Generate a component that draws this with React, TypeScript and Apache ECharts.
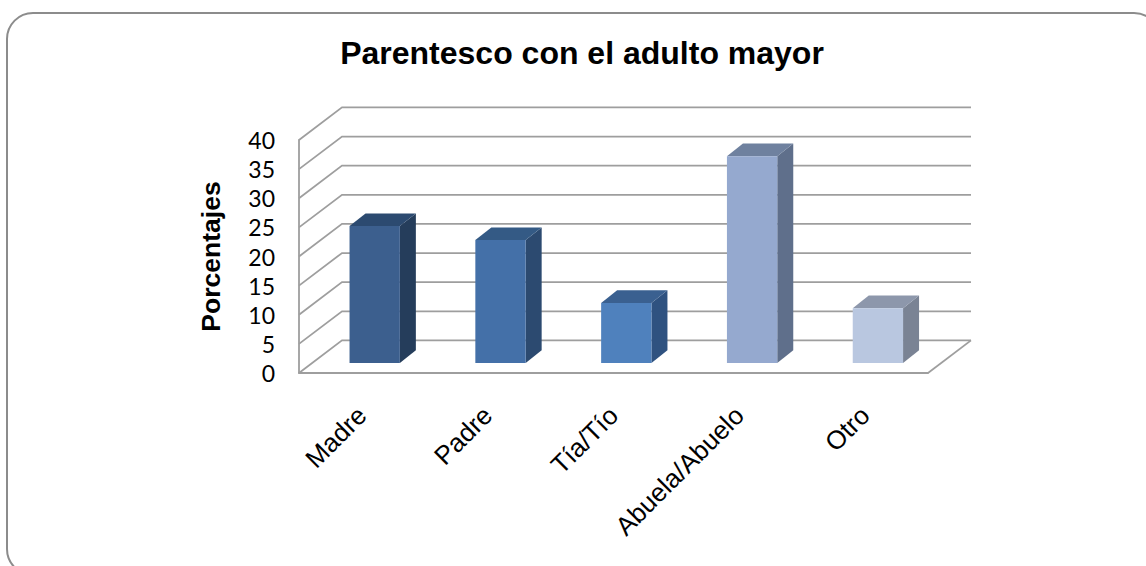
import React, { useEffect, useRef } from "react";
import * as echarts from "echarts";

const categories = ["Madre", "Padre", "Tía/Tío", "Abuela/Abuelo", "Otro"];
const values = [23.5, 21.1, 10.3, 35.5, 9.4];
const yTicks = [0, 5, 10, 15, 20, 25, 30, 35, 40];

const faceColors = ["#3C5F8E", "#4470A8", "#4F81BD", "#95A9CF", "#B9C7E0"];
const sideColors = ["#253D5B", "#2C4A70", "#2F5280", "#5F6F8B", "#7A8394"];
const topColors = ["#2C4A70", "#345A85", "#3A6090", "#6F819F", "#8D97AB"];

const GRID_COLOR = "#9E9E9E";
const GRID_WIDTH = 1.8;
const WALL_DX = 43;
const WALL_DY = -32.6;
const BAR_SHIFT_X = 12.8;
const BAR_SHIFT_Y = -10;
const BAR_DX = 16;
const BAR_DY = -12.7;
const BAR_RATIO = 0.4;

export default function App() {
  const ref = useRef<HTMLDivElement>(null);
  useEffect(() => {
    document.body.style.margin = "0";
    const chart = echarts.init(ref.current!, undefined, { renderer: "svg" });
    chart.setOption({
      animation: false,
      backgroundColor: "#fff",
      title: {
        text: "Parentesco con el adulto mayor",
        left: 577,
        top: 32,
        textAlign: "center",
        textStyle: { fontFamily: "Liberation Sans", fontWeight: "bold", fontSize: 32, color: "#000" },
      },
      graphic: [
        {
          type: "rect",
          silent: true,
          z: -10,
          shape: { x: 7, y: 13, width: 1153, height: 562, r: 26 },
          style: { fill: "#fff", stroke: "#8C8C8C", lineWidth: 2 },
        },
      ],
      grid: { left: 299, right: 218, top: 140, bottom: 193 },
      xAxis: {
        type: "category",
        data: categories,
        axisTick: { show: false },
        axisLine: { show: true, lineStyle: { color: GRID_COLOR, width: GRID_WIDTH } },
        axisLabel: {
          rotate: 45,
          interval: 0,
          margin: 38,
          fontFamily: "Liberation Sans",
          fontSize: 26,
          color: "#000",
        },
      },
      yAxis: {
        type: "value",
        min: 0,
        max: 40,
        interval: 5,
        splitLine: { show: false },
        axisTick: { show: false },
        axisLine: { show: true, lineStyle: { color: GRID_COLOR, width: GRID_WIDTH } },
        axisLabel: { margin: 24, fontFamily: "Lato", fontSize: 23, color: "#000" },
        name: "Porcentajes",
        nameLocation: "middle",
        nameGap: 75,
        nameTextStyle: { fontFamily: "Liberation Sans", fontWeight: "bold", fontSize: 26.5, color: "#000" },
      },
      series: [
        {
          type: "custom",
          z: 1,
          data: yTicks.map((t) => [0, t]),
          encode: { x: 0, y: 1 },
          silent: true,
          renderItem: (params: any, api: any) => {
            const cs = params.coordSys;
            const y = api.coord([0, api.value(1)])[1];
            const x0 = cs.x;
            const x1 = cs.x + cs.width;
            const children: any[] = [
              {
                type: "polyline",
                shape: {
                  points: [
                    [x0, y],
                    [x0 + WALL_DX, y + WALL_DY],
                    [x1 + WALL_DX, y + WALL_DY],
                  ],
                },
                style: { stroke: GRID_COLOR, lineWidth: GRID_WIDTH, fill: "none" },
              },
            ];
            if (api.value(1) === 0) {
              children.push({
                type: "line",
                shape: { x1, y1: y, x2: x1 + WALL_DX, y2: y + WALL_DY },
                style: { stroke: GRID_COLOR, lineWidth: GRID_WIDTH },
              });
            }
            return { type: "group", children };
          },
        },
        {
          type: "custom",
          z: 2,
          data: values.map((v, i) => [i, v]),
          encode: { x: 0, y: 1 },
          renderItem: (params: any, api: any) => {
            const i = api.value(0);
            const base = api.coord([i, 0]);
            const head = api.coord([i, api.value(1)]);
            const w = api.size([1, 0])[0] * BAR_RATIO;
            const xl = base[0] + BAR_SHIFT_X - w / 2;
            const xr = xl + w;
            const yb = base[1] + BAR_SHIFT_Y;
            const yt = head[1] + BAR_SHIFT_Y;
            return {
              type: "group",
              children: [
                {
                  type: "polygon",
                  shape: {
                    points: [
                      [xr, yb],
                      [xr + BAR_DX, yb + BAR_DY],
                      [xr + BAR_DX, yt + BAR_DY],
                      [xr, yt],
                    ],
                  },
                  style: { fill: sideColors[i] },
                },
                {
                  type: "polygon",
                  shape: {
                    points: [
                      [xl, yt],
                      [xl + BAR_DX, yt + BAR_DY],
                      [xr + BAR_DX, yt + BAR_DY],
                      [xr, yt],
                    ],
                  },
                  style: { fill: topColors[i] },
                },
                {
                  type: "rect",
                  shape: { x: xl, y: yt, width: w, height: yb - yt },
                  style: { fill: faceColors[i] },
                },
              ],
            };
          },
        },
      ],
    });
    return () => chart.dispose();
  }, []);
  return <div ref={ref} style={{ position: "absolute", left: 0, top: 0, width: 1146, height: 566 }} />;
}
